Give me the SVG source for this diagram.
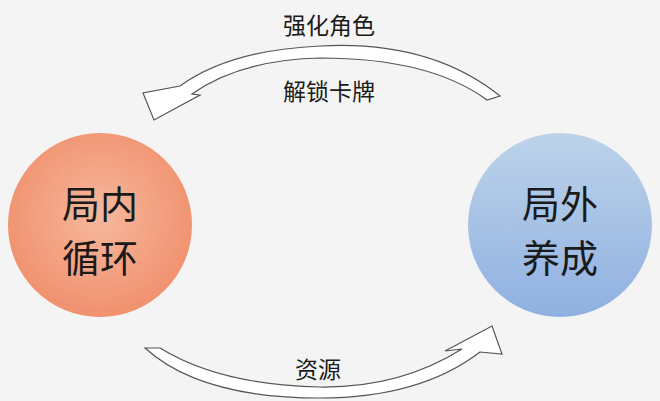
<svg xmlns="http://www.w3.org/2000/svg" width="660" height="401" viewBox="0 0 660 401">
<defs>
<radialGradient id="go" cx="0.5" cy="0.45" r="0.6"><stop offset="0" stop-color="#f6b89c"/><stop offset="1" stop-color="#f08d6a"/></radialGradient>
<linearGradient id="gb" x1="0" y1="0" x2="0" y2="1"><stop offset="0" stop-color="#bdd3ea"/><stop offset="1" stop-color="#8fb0e0"/></linearGradient>
<style>
.t{font-family:"Noto Sans CJK SC",sans-serif;fill:#1a1a1a}
.big{font-size:38px}
.lbl{font-size:23px}
.arr{fill:#fff;stroke:#555;stroke-width:1.2}
</style>
</defs>
<rect width="660" height="401" fill="#f4f4f4"/>
<g id="connectors">
<path class="arr" d="M500,96 Q430,40 320,46 Q230,50 180,86 L143,93 L154,120 L200,95 L192,94 Q240,60 320,58 Q430,58 487,100 Z"/>
<path class="arr" d="M145,348 Q200,398 320,398 Q420,398 480,352 L502,354 L492,326 L445,351 L462,349 Q400,388 320,387 Q220,385 160,348 Z"/>
</g>
<g id="left"><circle cx="100" cy="225" r="92" fill="url(#go)"/>
<text class="t big" x="100" y="218" text-anchor="middle">局内</text>
<text class="t big" x="100" y="272" text-anchor="middle">循环</text></g>
<g id="right"><circle cx="560" cy="225" r="92" fill="url(#gb)"/>
<text class="t big" x="560" y="218" text-anchor="middle">局外</text>
<text class="t big" x="560" y="272" text-anchor="middle">养成</text></g>
<g id="labels">
<text class="t lbl" x="329" y="34" text-anchor="middle">强化角色</text>
<text class="t lbl" x="329" y="100" text-anchor="middle">解锁卡牌</text>
<text class="t lbl" x="318" y="378" text-anchor="middle">资源</text>
</g>
</svg>
